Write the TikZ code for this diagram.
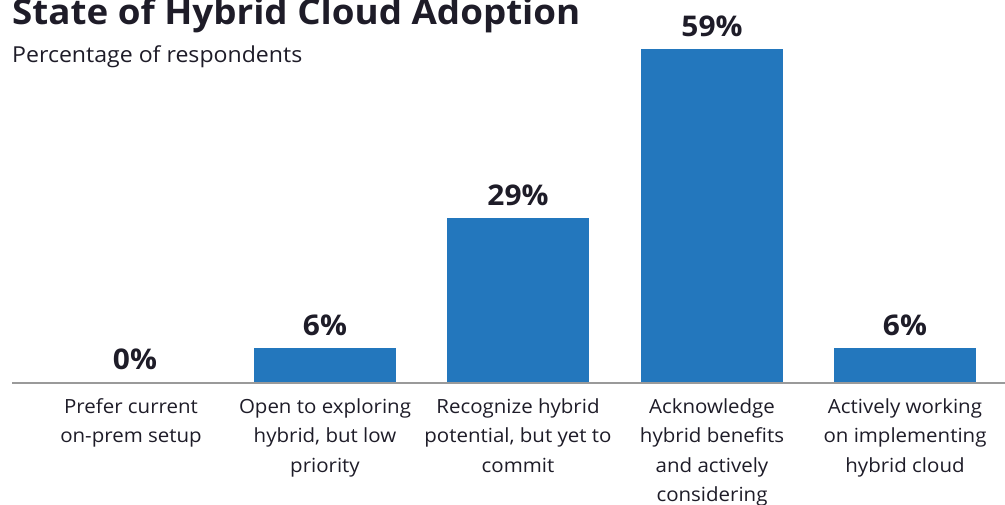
\documentclass[tikz,border=0pt]{standalone}
\usepackage{fontspec}
\setmainfont{Open Sans}[FakeStretch=1.05]
\definecolor{barblue}{HTML}{2377BD}
\definecolor{ink}{HTML}{1E1C28}
\definecolor{axisgray}{HTML}{9A9A9A}
\begin{document}
\begin{tikzpicture}[x=1pt,y=-1pt,
  bar/.style={fill=barblue,draw=none,minimum width=142pt,inner sep=0,anchor=south},
  val/.style={font=\bfseries\fontsize{28.5}{28.5}\selectfont,text=ink,anchor=base,inner sep=0},
  cat/.style={font=\fontsize{19.5}{29.5}\selectfont,text=ink,align=center,anchor=base,inner sep=0},
  axisline/.style={draw=axisgray,line width=2pt}]
\useasboundingbox (0,0) rectangle (1005,505);
\node[anchor=base west,inner sep=0,font=\bfseries\fontsize{35}{35}\selectfont,text=ink] (title) at (12,25) {State of Hybrid Cloud Adoption};
\node[anchor=base west,inner sep=0,font=\fontsize{22}{22}\selectfont,text=ink] (sub) at (12,63) {Percentage of respondents};
% bars
\coordinate (b1) at (135,382.5);
\node[bar,minimum height=33.9pt] (b2) at (325,382.5) {};
\node[bar,minimum height=164pt] (b3) at (518,382.5) {};
\node[bar,minimum height=333.5pt] (b4) at (712,382.5) {};
\node[bar,minimum height=33.9pt] (b5) at (905,382.5) {};
\coordinate (axl) at (12,382.5);
\coordinate (axr) at (1005,382.5);
\draw[axisline] (axl) -- (axr);
% values
\node[val] (v1) at ([yshift=12.5pt]b1) {0\%};
\node[val] (v2) at ([yshift=12.5pt]b2.north) {6\%};
\node[val] (v3) at ([yshift=12.5pt]b3.north) {29\%};
\node[val] (v4) at ([yshift=12.5pt]b4.north) {59\%};
\node[val] (v5) at ([yshift=12.5pt]b5.north) {6\%};
% categories (base anchor = baseline of last line)
\node[cat] (c1) at (131,442.8) {Prefer current\\on-prem setup};
\node[cat] (c2) at (325,472.3) {Open to exploring\\hybrid, but low\\priority};
\node[cat] (c3) at (518,472.3) {Recognize hybrid\\potential, but yet to\\commit};
\node[cat] (c4) at (712,501.8) {Acknowledge\\hybrid benefits\\and actively\\considering};
\node[cat] (c5) at (905,472.3) {Actively working\\on implementing\\hybrid cloud};
\end{tikzpicture}
\end{document}
